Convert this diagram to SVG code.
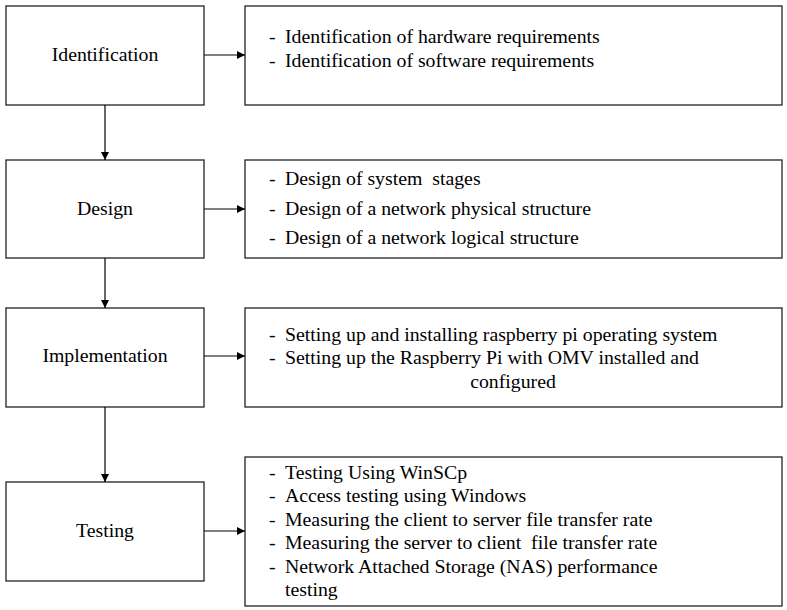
<svg xmlns="http://www.w3.org/2000/svg" width="787" height="610" viewBox="0 0 787 610">
<defs>
<marker id="ah" viewBox="0 0 10 10" refX="10" refY="5" markerWidth="8" markerHeight="8" markerUnits="userSpaceOnUse" orient="auto">
<path d="M0,0 L10,5 L0,10 Z" fill="#000"/>
</marker>
<style>
.box{fill:#fff;stroke:#222;stroke-width:1.3}
.t{font-family:"Liberation Serif","Times New Roman",serif;font-size:19.8px;fill:#000;white-space:pre}
.c{text-anchor:middle}
.ln{stroke:#000;stroke-width:1.2;fill:none;marker-end:url(#ah)}
</style>
</defs>
<rect width="787" height="610" fill="#fff"/>
<g id="identification">
<rect class="box" x="6" y="6" width="198" height="99"/>
<text class="t c" x="105" y="61">Identification</text>
</g>
<g id="identification-details">
<rect class="box" x="245" y="6" width="537" height="99"/>
<text class="t" x="269" y="43">-</text><text class="t" x="285" y="43">Identification of hardware requirements</text>
<text class="t" x="269" y="67">-</text><text class="t" x="285" y="67">Identification of software requirements</text>
</g>
<g id="design">
<rect class="box" x="6" y="160" width="198" height="98"/>
<text class="t c" x="105" y="215">Design</text>
</g>
<g id="design-details">
<rect class="box" x="245" y="160" width="537" height="98"/>
<text class="t" x="269" y="185">-</text><text class="t" x="285" y="185">Design of system  stages</text>
<text class="t" x="269" y="215">-</text><text class="t" x="285" y="215">Design of a network physical structure</text>
<text class="t" x="269" y="244">-</text><text class="t" x="285" y="244">Design of a network logical structure</text>
</g>
<g id="implementation">
<rect class="box" x="6" y="308" width="198" height="99"/>
<text class="t c" x="105" y="362">Implementation</text>
</g>
<g id="implementation-details">
<rect class="box" x="245" y="308" width="537" height="99"/>
<text class="t" x="269" y="341">-</text><text class="t" x="285" y="341">Setting up and installing raspberry pi operating system</text>
<text class="t" x="269" y="364">-</text><text class="t" x="285" y="364">Setting up the Raspberry Pi with OMV installed and</text>
<text class="t c" x="513" y="388">configured</text>
</g>
<g id="testing">
<rect class="box" x="6" y="482" width="198" height="99"/>
<text class="t c" x="105" y="537">Testing</text>
</g>
<g id="testing-details">
<rect class="box" x="245" y="457" width="537" height="149"/>
<text class="t" x="269" y="479">-</text><text class="t" x="285" y="479">Testing Using WinSCp</text>
<text class="t" x="269" y="502">-</text><text class="t" x="285" y="502">Access testing using Windows</text>
<text class="t" x="269" y="526">-</text><text class="t" x="285" y="526">Measuring the client to server file transfer rate</text>
<text class="t" x="269" y="549">-</text><text class="t" x="285" y="549">Measuring the server to client  file transfer rate</text>
<text class="t" x="269" y="573">-</text><text class="t" x="285" y="573">Network Attached Storage (NAS) performance</text>
<text class="t" x="285" y="596">testing</text>
</g>
<g id="connectors">
<line class="ln" x1="204" y1="55" x2="245" y2="55"/>
<line class="ln" x1="204" y1="209" x2="245" y2="209"/>
<line class="ln" x1="204" y1="356" x2="245" y2="356"/>
<line class="ln" x1="204" y1="531" x2="245" y2="531"/>
<line class="ln" x1="105" y1="105" x2="105" y2="160"/>
<line class="ln" x1="105" y1="258" x2="105" y2="308"/>
<line class="ln" x1="105" y1="407" x2="105" y2="482"/>
</g>
</svg>
